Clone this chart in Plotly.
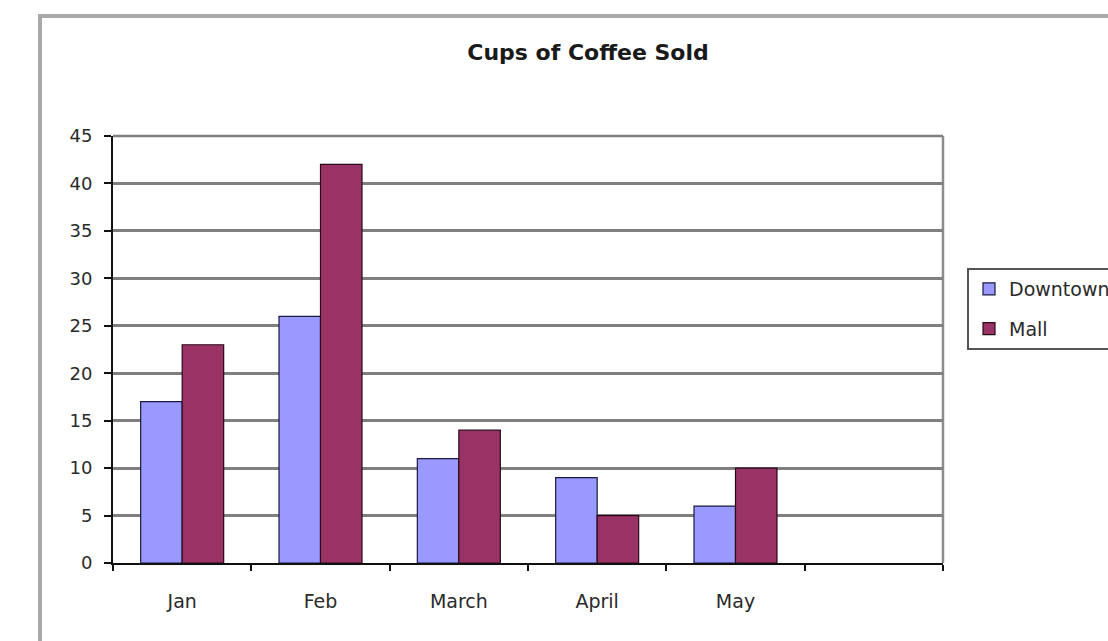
import plotly.graph_objects as go

# ---- data ----
months = ["Jan", "Feb", "March", "April", "May"]
empty_slot = [" "]
downtown = [17, 26, 11, 9, 6]
mall = [23, 42, 14, 5, 10]
y_ticks = [0, 5, 10, 15, 20, 25, 30, 35, 40, 45]
title_text = "Cups of Coffee Sold"

W, H = 1108, 641
L, R, T, B = 113, 943, 136, 563  # plot area in px

FONT = "DejaVu Sans"

fig = go.Figure()
fig.add_trace(go.Bar(
    x=months, y=downtown, name="Downtown", legendgroup="a",
    marker=dict(color="#9999FF", line=dict(color="#1a1a40", width=1.2)),
))
fig.add_trace(go.Bar(
    x=months, y=mall, name="Mall", legendgroup="b",
    marker=dict(color="#993366", line=dict(color="#2a0a18", width=1.2)),
))

def px_x(p):
    return (p - L) / (R - L)

def px_y(p):
    return (B - p) / (B - T)

fig.update_layout(
    width=W, height=H,
    margin=dict(l=L, r=W - R, t=T, b=H - B, autoexpand=False),
    paper_bgcolor="white", plot_bgcolor="white",
    barmode="group", bargap=0.4, bargroupgap=0,
    title=dict(text=title_text, x=588 / W, xref="container", xanchor="center",
               y=1 - 52 / H, yref="container", yanchor="middle",
               font=dict(family=FONT, size=22, color="#1a1a1a", weight="bold")),
    legend=dict(xref="container", yref="container", x=967 / W, y=1 - 268 / H,
                xanchor="left", yanchor="top",
                bordercolor="#555", borderwidth=2, bgcolor="white",
                font=dict(family=FONT, size=19, color="#2a2a2a"),
                tracegroupgap=12, traceorder="grouped", entrywidth=180),
    xaxis=dict(type="category", categoryorder="array",
               categoryarray=months + empty_slot, range=[-0.5, 5.5],
               showline=True, linecolor="#111", linewidth=1.8,
               ticks="outside", tickson="boundaries", ticklen=6, tickcolor="#111",
               tickwidth=1.5, showgrid=False, ticklabelstandoff=20,
               tickfont=dict(family=FONT, size=19, color="#2a2a2a")),
    yaxis=dict(range=[0, 45], tickvals=y_ticks, showline=True, linecolor="#111",
               linewidth=1.8, ticks="outside", ticklen=7, tickcolor="#111",
               tickwidth=1.5, showgrid=True, gridcolor="#7f7f7f", gridwidth=2.5,
               zeroline=False, ticklabelstandoff=8,
               tickfont=dict(family=FONT, size=18, color="#2a2a2a")),
    shapes=[
        dict(type="line", xref="paper", yref="paper", x0=1, x1=1, y0=0, y1=1,
             line=dict(color="#8c8c8c", width=2.5), layer="below"),
        dict(type="line", xref="paper", yref="paper", x0=0, x1=1, y0=1, y1=1,
             line=dict(color="#7f7f7f", width=2.5), layer="below"),
        dict(type="rect", xref="paper", yref="paper",
             x0=px_x(40), x1=px_x(1200), y0=px_y(700), y1=px_y(16),
             line=dict(color="#a8a8a8", width=4), layer="below"),
    ],
)

fig.write_html("out.html")
